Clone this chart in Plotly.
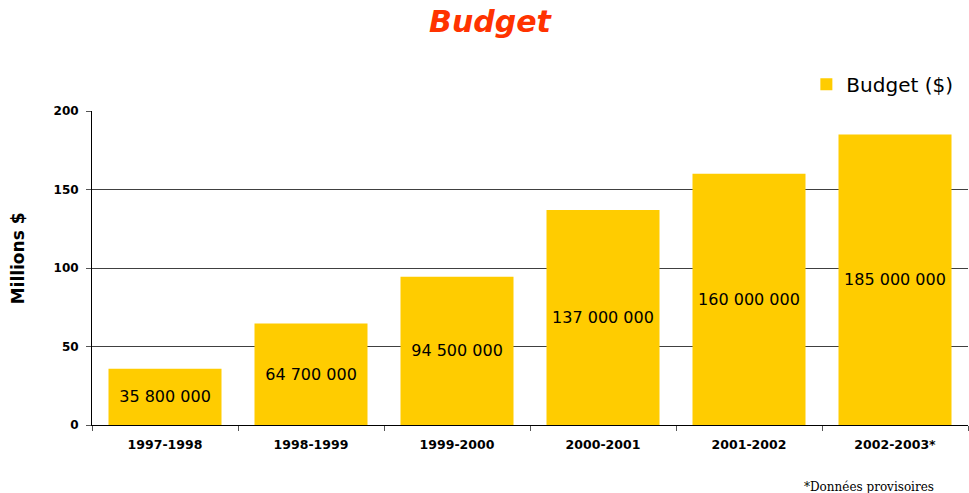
import plotly.graph_objects as go

categories = ["1997-1998", "1998-1999", "1999-2000", "2000-2001", "2001-2002", "2002-2003*"]
values = [35.8, 64.7, 94.5, 137, 160, 185]
value_labels = ["35 800 000", "64 700 000", "94 500 000", "137 000 000", "160 000 000", "185 000 000"]
y_ticks = [0, 50, 100, 150, 200]

FONT = "DejaVu Sans, Arial, sans-serif"

fig = go.Figure()
fig.add_trace(go.Bar(
    x=categories, y=values, name="Budget ($)",
    marker=dict(color="#FFCC00", line=dict(width=0)),
    text=value_labels, textposition="inside", insidetextanchor="middle",
    textangle=0, constraintext="none",
    textfont=dict(family=FONT, size=16, color="black"),
    showlegend=True,
))

fig.update_layout(
    width=969, height=493,
    margin=dict(l=92, r=1, t=111, b=68),
    paper_bgcolor="white", plot_bgcolor="white",
    bargap=0.226,
    font=dict(family=FONT, color="black"),
    title=dict(text="<b><i>Budget</i></b>", x=490 / 969, xanchor="center",
               y=1 - 21 / 493, yanchor="middle",
               font=dict(family=FONT, size=30, color="#FF3300")),
    legend=dict(x=0.989, xanchor="right", y=1.085, yanchor="middle",
                font=dict(family=FONT, size=20, color="black"),
                bgcolor="rgba(0,0,0,0)", itemwidth=30),
    xaxis=dict(
        tickson="boundaries", ticks="outside", ticklen=5, tickcolor="#555",
        showline=True, linecolor="black", linewidth=1,
        tickfont=dict(family=FONT, size=12.5, color="black", weight="bold"),
        ticklabelstandoff=8,
        showgrid=False,
    ),
    yaxis=dict(
        range=[0, 200], tickvals=y_ticks, ticks="outside", ticklen=5, tickcolor="#555",
        showline=True, linecolor="black", linewidth=1,
        showgrid=True, gridcolor="#404040", gridwidth=1,
        tickfont=dict(family=FONT, size=12, color="black", weight="bold"),
        ticklabelstandoff=5,
        zeroline=False,
    ),
    annotations=[
        dict(text="<b>Millions $</b>", textangle=-90, x=-0.084, y=0.532,
             xref="paper", yref="paper", xanchor="center", yanchor="middle",
             showarrow=False, font=dict(family=FONT, size=17, color="black")),
        dict(text="*Données provisoires", x=(869 - 92) / 876, y=-0.197,
             xref="paper", yref="paper", xanchor="center", yanchor="middle",
             showarrow=False, font=dict(family="DejaVu Serif, Liberation Serif, serif",
                                        size=12, color="black")),
    ],
)

fig.write_html("out.html")
